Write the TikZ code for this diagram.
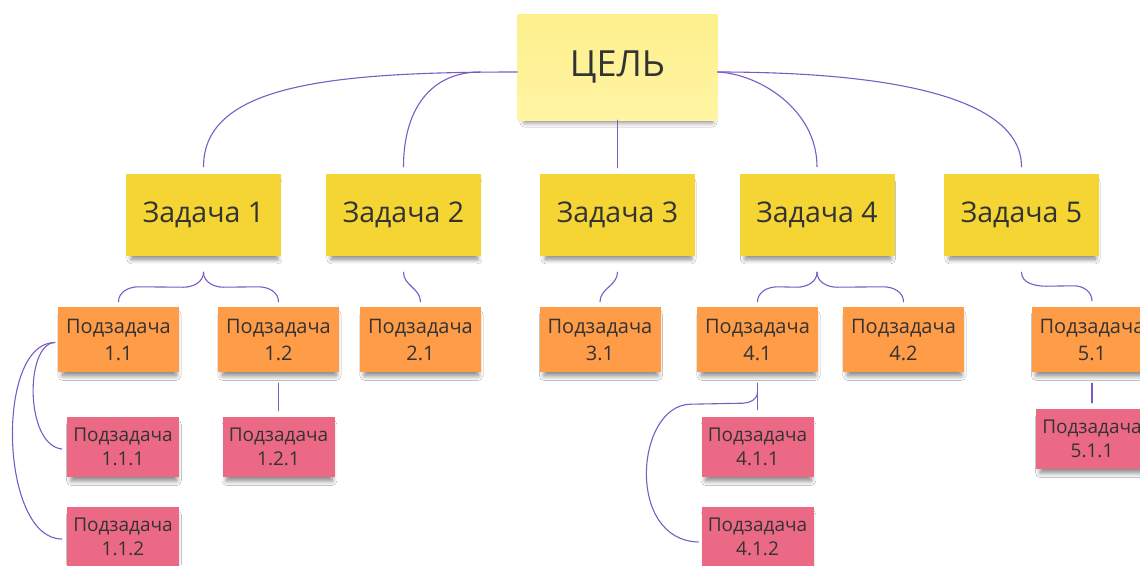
\documentclass[tikz,border=0pt]{standalone}
\usepackage{fontspec}
\setmainfont{Open Sans}
\usetikzlibrary{calc,shadows.blur}
\definecolor{goalc}{HTML}{FFF5A3}
\definecolor{goaltop}{HTML}{FDEF8C}
\definecolor{taskc}{HTML}{F4D534}
\definecolor{subc}{HTML}{FE9C47}
\definecolor{subsubc}{HTML}{EB6985}
\definecolor{linec}{HTML}{7A5CC6}
\definecolor{txt}{HTML}{333333}
\begin{document}
\begin{tikzpicture}[x=1pt,y=-1pt,
  note/.style={rectangle, inner sep=0pt, text=txt, align=center,
    blur shadow={shadow xshift=1pt, shadow yshift=-6pt, shadow scale=0.94, shadow opacity=50, shadow blur radius=5pt, shadow blur steps=8}},
  goalnote/.style={note, top color=goaltop, bottom color=goalc, minimum width=200pt, minimum height=106pt, font=\fontsize{36}{42}\selectfont},
  tasknote/.style={note, fill=taskc, minimum width=155pt, minimum height=82pt, font=\fontsize{28.5}{33}\selectfont},
  subnote/.style={note, fill=subc, minimum width=121pt, minimum height=65pt, font=\fontsize{20}{27}\selectfont},
  subsubnote/.style={note, fill=subsubc, minimum width=112pt, minimum height=60pt, font=\fontsize{19}{24}\selectfont},
  conn/.style={draw=linec, line width=1.1pt, line cap=round}]
\fill[white] (0,0) rectangle (1140,565);
\useasboundingbox (0,0) rectangle (1140,565);
\begin{scope}
\clip (0,0) rectangle (1140,565);
% nodes
\node[goalnote] (goal) at (617.5,67) {ЦЕЛЬ};
\node[tasknote] (t1) at (203.5,215) {Задача 1};
\node[tasknote] (t2) at (403.5,215) {Задача 2};
\node[tasknote] (t3) at (617.5,215) {Задача 3};
\node[tasknote] (t4) at (817,215) {Задача 4};
\node[tasknote] (t5) at (1021.5,215) {Задача 5};
\node[subnote] (s11) at (118.5,339.5) {Подзадача\\1.1};
\node[subnote] (s12) at (278.5,339.5) {Подзадача\\1.2};
\node[subnote] (s21) at (420.5,339.5) {Подзадача\\2.1};
\node[subnote] (s31) at (600,339.5) {Подзадача\\3.1};
\node[subnote] (s41) at (757.5,339.5) {Подзадача\\4.1};
\node[subnote] (s42) at (903.5,339.5) {Подзадача\\4.2};
\node[subnote] (s51) at (1092,339.5) {Подзадача\\5.1};
\node[subsubnote] (s111) at (123,447) {Подзадача\\1.1.1};
\node[subsubnote] (s112) at (123,537) {Подзадача\\1.1.2};
\node[subsubnote] (s121) at (278.5,447) {Подзадача\\1.2.1};
\node[subsubnote] (s411) at (757.5,447) {Подзадача\\4.1.1};
\node[subsubnote] (s412) at (757.5,537) {Подзадача\\4.1.2};
\node[subsubnote] (s511) at (1092,439) {Подзадача\\5.1.1};
% goal -> tasks
\draw[conn] ([yshift=-5pt]goal.west) .. controls ($(goal.west)+(-187,5)$) and ($(t1.north)+(0,-89)$) .. ($(t1.north)+(0,-7)$);
\draw[conn] ($(goal.west)+(-37,5)$) .. controls ($(goal.west)+(-87,5)$) and ($(t2.north)+(0,-64)$) .. ($(t2.north)+(0,-7)$);
\draw[conn] (goal.south) -- ($(t3.north)+(0,-6)$);
\draw[conn] ([yshift=-5pt]goal.east) .. controls ($(goal.east)+(42,7)$) and ($(t4.north)+(0,-64)$) .. ($(t4.north)+(0,-7)$);
\draw[conn] ([yshift=-5pt]goal.east) .. controls ($(goal.east)+(182,5)$) and ($(t5.north)+(0,-74)$) .. ($(t5.north)+(0,-7)$);
% tasks -> subtasks
\draw[conn] ($(t1.south)+(0,16)$) to[out=-90,in=0] ($(t1.south)+(-20,31)$) -- ($(s11.north)+(20,-20)$) to[out=180,in=90] ($(s11.north)+(0,-5)$);
\draw[conn] ($(t1.south)+(0,16)$) to[out=-90,in=180] ($(t1.south)+(20,31)$) -- ($(s12.north)+(-20,-20)$) to[out=0,in=90] ($(s12.north)+(0,-5)$);
\draw[conn] ($(t2.south)+(0,16)$) to[out=-90,in=90] ($(s21.north)+(0,-5)$);
\draw[conn] ($(t3.south)+(0,16)$) to[out=-90,in=90] ($(s31.north)+(0,-5)$);
\draw[conn] ($(t4.south)+(0,16)$) to[out=-90,in=0] ($(t4.south)+(-20,31)$) -- ($(s41.north)+(20,-20)$) to[out=180,in=90] ($(s41.north)+(0,-5)$);
\draw[conn] ($(t4.south)+(0,16)$) to[out=-90,in=180] ($(t4.south)+(20,31)$) -- ($(s42.north)+(-20,-20)$) to[out=0,in=90] ($(s42.north)+(0,-5)$);
\draw[conn] ($(t5.south)+(0,16)$) to[out=-90,in=180] ($(t5.south)+(25,30)$) -- ($(s51.north)+(-18,-21)$) to[out=0,in=90] ($(s51.north)+(0,-6)$);
% subtasks -> sub-subtasks
\draw[conn] ($(s11.west)+(-3,3)$) .. controls ($(s11.west)+(-33,4)$) and ($(s111.west)+(-42,-2)$) .. ($(s111.west)+(-5,2)$);
\draw[conn] ($(s11.west)+(-3,3)$) .. controls ($(s11.west)+(-63,3)$) and ($(s112.west)+(-67,2)$) .. ($(s112.west)+(-5,2)$);
\draw[conn] ($(s12.south)+(0,11)$) -- ($(s121.north)+(0,-6)$);
\draw[conn] ($(s41.south)+(0,11)$) -- ($(s411.north)+(0,-7)$);
\draw[conn] ($(s41.south)+(0,20)$) to[out=-90,in=0] ($(s41.south)+(-15,31)$) -- ($(s41.south)+(-67,32)$) .. controls ($(s41.south)+(-122,33)$) and ($(s412.west)+(-76,3)$) .. ($(s412.west)+(-3,5)$);
\draw[conn] ($(s51.south)+(0,11)$) -- ($(s511.north)+(0,-6)$);
\end{scope}
\end{tikzpicture}
\end{document}
